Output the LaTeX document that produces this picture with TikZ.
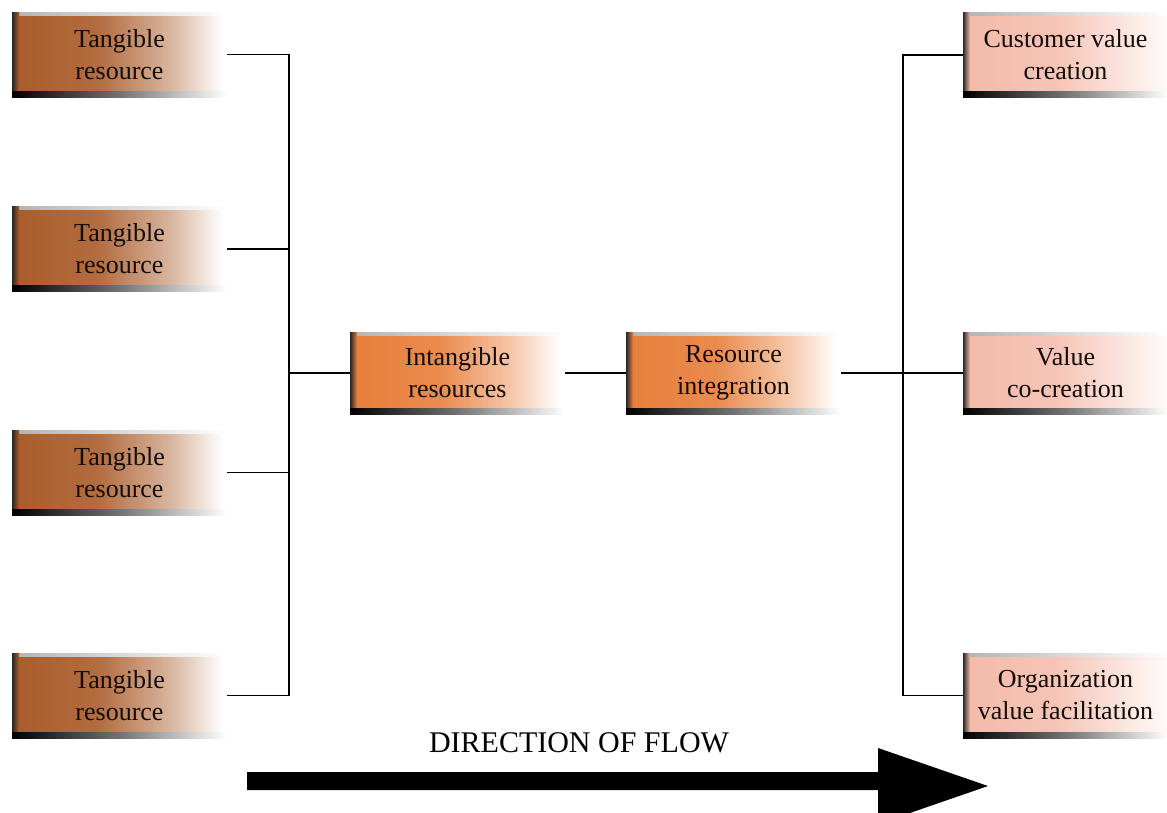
\documentclass[tikz,border=0pt]{standalone}
\usepackage{fontspec}
\setmainfont{Liberation Serif}
\newfontfamily\boxserif{Liberation Serif}
\definecolor{tanc}{RGB}{170,92,42}
\definecolor{intc}{RGB}{232,126,58}
\definecolor{pinkc}{RGB}{244,186,170}
\pgfdeclarehorizontalshading{tanshade}{100bp}{color(0bp)=(tanc); color(25bp)=(tanc); color(45bp)=(tanc!90!white); color(62bp)=(tanc!45!white); color(74bp)=(white); color(100bp)=(white)}
\pgfdeclarehorizontalshading{intshade}{100bp}{color(0bp)=(intc); color(25bp)=(intc); color(46bp)=(intc!90!white); color(62bp)=(intc!45!white); color(74bp)=(white); color(100bp)=(white)}
\pgfdeclarehorizontalshading{pinkshade}{100bp}{color(0bp)=(pinkc); color(25bp)=(pinkc); color(48bp)=(pinkc!85!white); color(75bp)=(white!94!pinkc); color(100bp)=(white)}
\tikzset{
  gbox/.style 2 args={minimum width=215pt, minimum height=85pt, inner sep=0pt, align=center,
    font=\boxserif\fontsize{26}{32}\selectfont, text=black!90!brown,
    path picture={
      \shade[shading=#1] (path picture bounding box.south west) rectangle (path picture bounding box.north east);
      \shade[left color=gray!60, right color=white] ([yshift=-3pt]path picture bounding box.north west) rectangle (path picture bounding box.north east);
      \shade[left color=black!85, right color=#2] (path picture bounding box.south west) rectangle ([xshift=7pt]path picture bounding box.north west);
      \shade[left color=black, right color=white, middle color=black!55] (path picture bounding box.south west) rectangle ([yshift=6pt]path picture bounding box.south east);
    }},
  conn/.style={line width=1.4pt, black}
}
\begin{document}
\begin{tikzpicture}[x=1pt,y=-1pt]
\clip (0,0) rectangle (1167,812);
\fill[white] (0,0) rectangle (1167,812);
% left column
\node[gbox={tanshade}{tanc}] (t1) at (119.5,54.5) {Tangible\\resource};
\node[gbox={tanshade}{tanc}] (t2) at (119.5,249) {Tangible\\resource};
\node[gbox={tanshade}{tanc}] (t3) at (119.5,472.5) {Tangible\\resource};
\node[gbox={tanshade}{tanc}] (t4) at (119.5,695.5) {Tangible\\resource};
% middle
\node[gbox={intshade}{intc}, minimum height=82pt] (int) at (457.5,373) {Intangible\\resources};
\node[gbox={intshade}{intc}, minimum height=82pt] (ri) at (733.5,373) {Resource\\integration};
% right column
\node[gbox={pinkshade}{pinkc}, minimum width=205pt] (cv) at (1065.5,55) {Customer value\\creation};
\node[gbox={pinkshade}{pinkc}, minimum width=205pt, minimum height=82pt] (vc) at (1065.5,373) {Value\\co-creation};
\node[gbox={pinkshade}{pinkc}, minimum width=205pt] (ov) at (1065.5,695.5) {Organization\\value facilitation};
% connectors
\coordinate (lb) at (289,373);
\coordinate (rb) at (903,373);
\draw[conn] (t1.east) -| (lb);
\draw[conn] (t2.east) -| (lb);
\draw[conn] (t3.east) -| (lb);
\draw[conn] (t4.east) -| (lb);
\draw[conn] (lb) -- (int.west);
\draw[conn] (int.east) -- (ri.west);
\draw[conn] (ri.east) -- (vc.west);
\draw[conn] (rb) |- (cv.west);
\draw[conn] (rb) |- (ov.west);
% direction of flow
\node[font=\boxserif\fontsize{30}{36}\selectfont, anchor=base] (dir) at (579,752) {DIRECTION OF FLOW};
\fill[black] (247,772) -- (878,772) -- (878,748) -- (988,786) -- (878,824) -- (878,790) -- (247,790) -- cycle;
\end{tikzpicture}
\end{document}
